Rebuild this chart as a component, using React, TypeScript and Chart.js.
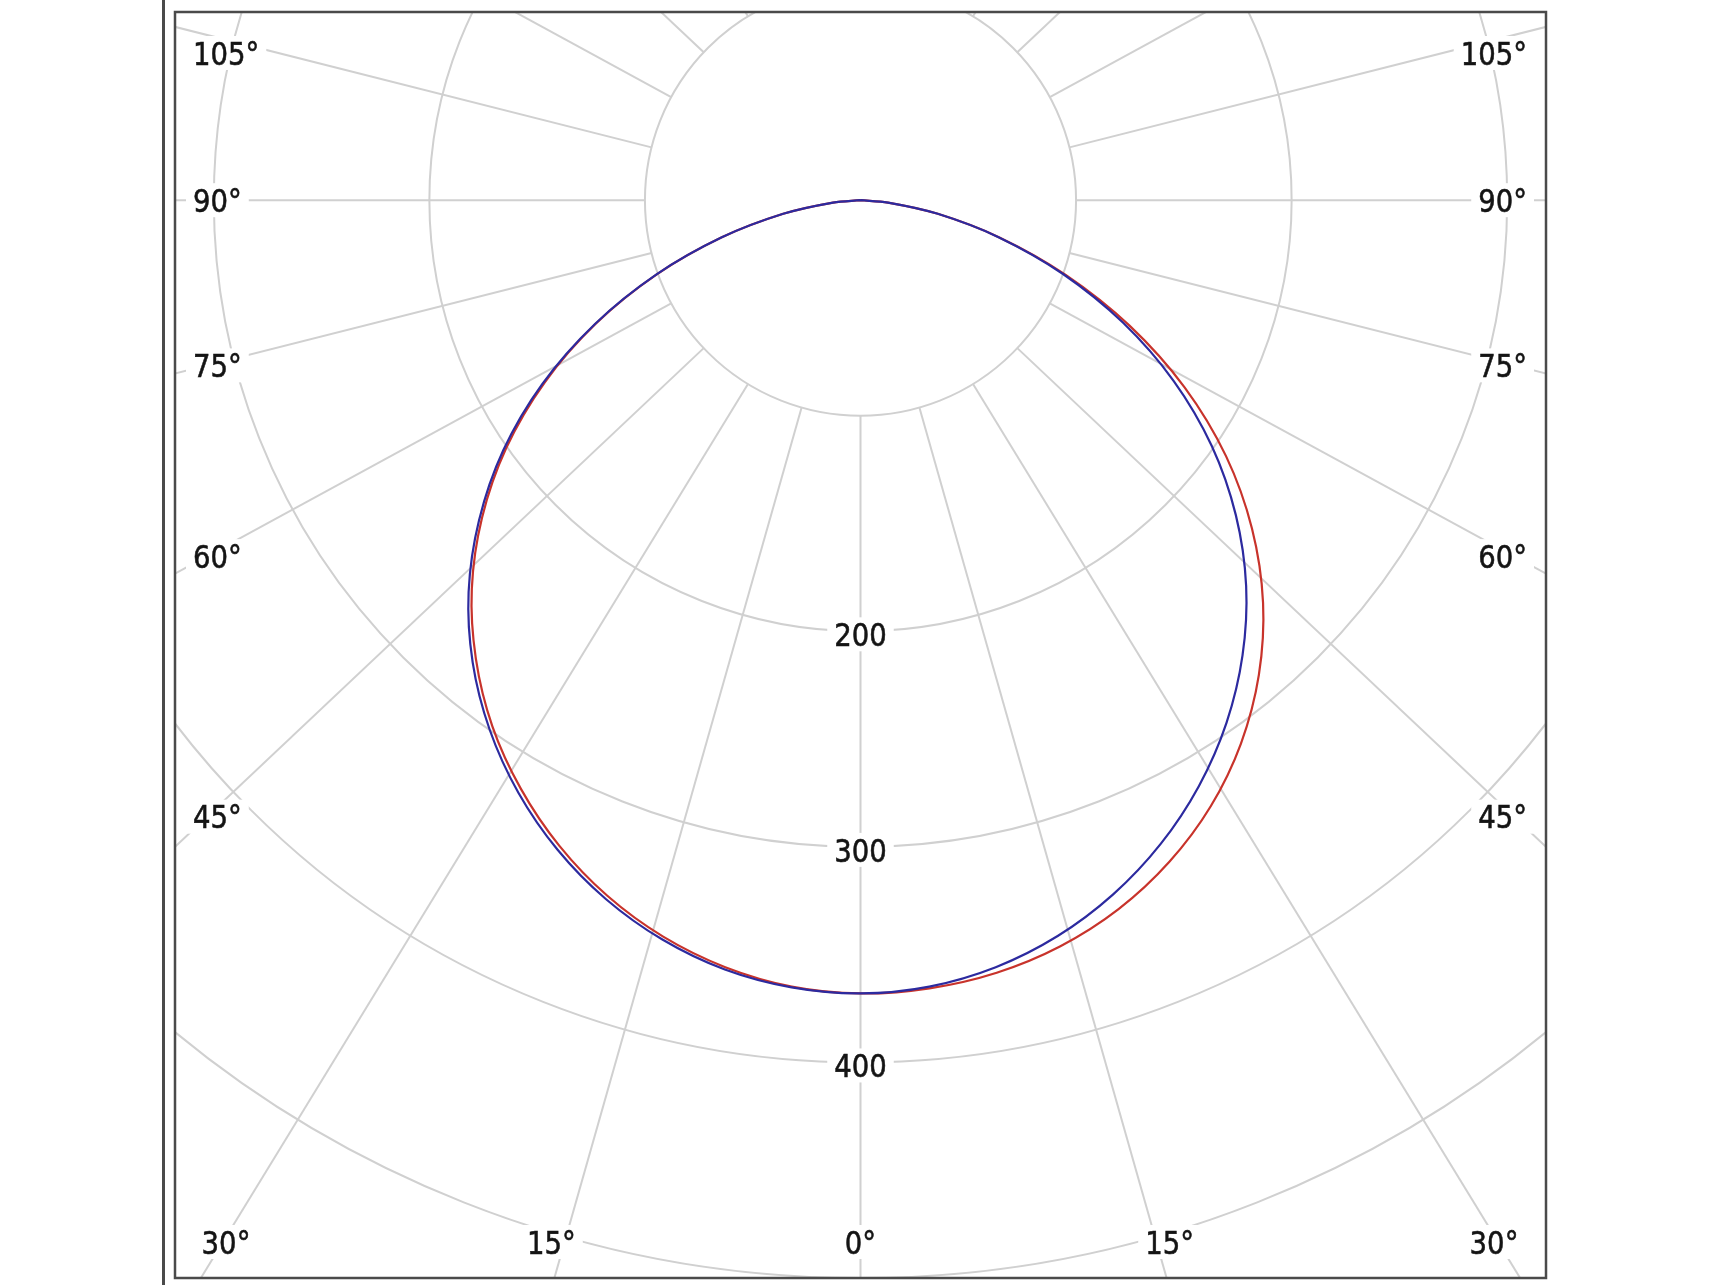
import React, { useEffect, useRef } from "react";
import { Chart, registerables } from "chart.js";

Chart.register(...registerables);

// Vertical angle gamma (degrees from nadir)
const GAMMA = [0, 5, 10, 15, 20, 25, 30, 35, 40, 45, 50, 55, 60, 65, 70, 75, 80, 85, 90];
// Intensities per C-plane (red = C0/C180, blue = C90/C270)
const C0 = [368.0, 367.0, 363.9, 358.3, 350.0, 338.8, 324.8, 307.7, 287.5, 264.1, 237.1, 207.0, 173.6, 137.7, 101.3, 66.7, 36.4, 12.8, 0];
const C180 = [368.0, 366.2, 361.3, 353.7, 343.4, 330.5, 315.2, 297.8, 277.6, 255.0, 229.2, 200.7, 169.2, 135.4, 100.4, 66.6, 36.4, 12.8, 0];
const C90 = [368.0, 366.2, 361.3, 353.4, 342.7, 329.5, 313.9, 296.0, 275.7, 253.0, 227.3, 199.0, 167.8, 134.3, 99.8, 66.3, 36.4, 12.8, 0];
const C270 = [368.0, 366.6, 362.4, 355.1, 345.1, 332.5, 317.4, 299.9, 279.9, 257.1, 231.0, 202.3, 170.4, 135.9, 100.7, 66.6, 36.4, 12.8, 0];

// Grid
const RING_VALUES = [100, 200, 300, 400, 500, 600];
const RING_LABELS = [200, 300, 400];
const SPOKE_ANGLES = [-165, -150, -135, -120, -105, -90, -75, -60, -45, -30, -15, 0, 15, 30, 45, 60, 75, 90, 105, 120, 135, 150, 165, 180];
const ANGLE_LABELS = [-105, -90, -75, -60, -45, -30, -15, 0, 15, 30, 45, 60, 75, 90, 105];

const X_MIN = -318;
const X_MAX = 318;
const Y_MIN = -500;
const Y_MAX = 87.3;

const RED = "#c8332b";
const BLUE = "#2c2a9f";
const GRID = "#d0d0d0";
const FRAME = "#4a4a4a";
const TEXT = "#141414";
const SPOKE_STRETCH = 1.06;
const FONT_SIZE = 32;
const FONT = `${FONT_SIZE}px 'DejaVu Sans', sans-serif`;
const TEXT_SQUEEZE = 0.86;

function toXY(values: number[], side: number) {
  return GAMMA.map((g, i) => {
    const t = (g * Math.PI) / 180;
    return { x: side * values[i] * Math.sin(t), y: -values[i] * Math.cos(t) };
  });
}

function curve(left: number[], right: number[]) {
  const l = toXY(left, -1).reverse();
  const r = toXY(right, 1).slice(1);
  return [...l, ...r];
}

function spokeDir(deg: number) {
  const t = (deg * Math.PI) / 180;
  const dx = SPOKE_STRETCH * Math.sin(t);
  const dy = Math.cos(t);
  const n = Math.hypot(dx, dy);
  return { dx: dx / n, dy: dy / n };
}

function labelBox(ctx: CanvasRenderingContext2D, text: string, x: number, y: number, align: string) {
  const w = ctx.measureText(text).width * TEXT_SQUEEZE;
  let left = x - w / 2;
  if (align === "left") left = x;
  if (align === "right") left = x - w;
  ctx.fillStyle = "#ffffff";
  ctx.fillRect(left - 7, y - 17, w + 14, 34);
  ctx.save();
  ctx.translate(left, y + 0.3645 * FONT_SIZE);
  ctx.scale(TEXT_SQUEEZE, 1);
  ctx.fillStyle = TEXT;
  ctx.strokeStyle = TEXT;
  ctx.lineWidth = 0.6;
  ctx.textAlign = "left";
  ctx.textBaseline = "alphabetic";
  ctx.fillText(text, 0, 0);
  ctx.strokeText(text, 0, 0);
  ctx.restore();
}

const polarGrid = {
  id: "polarGrid",
  beforeDatasetsDraw(chart: any) {
    const { ctx, chartArea: a, scales } = chart;
    const xs = scales.x;
    const ys = scales.y;
    const cx = xs.getPixelForValue(0);
    const cy = ys.getPixelForValue(0);
    const unit = (xs.getPixelForValue(100) - cx) / 100;
    ctx.save();
    ctx.beginPath();
    ctx.rect(a.left, a.top, a.right - a.left, a.bottom - a.top);
    ctx.clip();
    ctx.strokeStyle = GRID;
    ctx.lineWidth = 2;
    for (const v of RING_VALUES) {
      ctx.beginPath();
      ctx.arc(cx, cy, v * unit, 0, Math.PI * 2);
      ctx.stroke();
    }
    const r0 = RING_VALUES[0] * unit;
    for (const deg of SPOKE_ANGLES) {
      const { dx, dy } = spokeDir(deg);
      ctx.beginPath();
      ctx.moveTo(cx + dx * r0, cy + dy * r0);
      ctx.lineTo(cx + dx * 4000, cy + dy * 4000);
      ctx.stroke();
    }
    ctx.restore();
  },
  afterDatasetsDraw(chart: any) {
    const { ctx, chartArea: a, scales } = chart;
    const xs = scales.x;
    const ys = scales.y;
    const cx = xs.getPixelForValue(0);
    const cy = ys.getPixelForValue(0);
    const unit = (xs.getPixelForValue(100) - cx) / 100;
    ctx.save();
    ctx.font = FONT;
    for (const v of RING_LABELS) {
      labelBox(ctx, String(v), cx, cy + v * unit + 3, "center");
    }
    for (const deg of ANGLE_LABELS) {
      const { dx, dy } = spokeDir(deg);
      const cand: { t: number; edge: string }[] = [];
      if (dx < -1e-9) cand.push({ t: (a.left - cx) / dx, edge: "left" });
      if (dx > 1e-9) cand.push({ t: (a.right - cx) / dx, edge: "right" });
      if (dy > 1e-9) cand.push({ t: (a.bottom - cy) / dy, edge: "bottom" });
      if (dy < -1e-9) cand.push({ t: (a.top - cy) / dy, edge: "top" });
      cand.sort((p, q) => p.t - q.t);
      const hit = cand[0];
      const text = `${Math.abs(deg)}°`;
      if (hit.edge === "left" || hit.edge === "right") {
        const xLine = hit.edge === "left" ? a.left + 32 : a.right - 32;
        const t = (xLine - cx) / dx;
        const py = cy + dy * t;
        const y = Math.min(Math.max(py, a.top + 41), a.bottom - 36);
        if (hit.edge === "left") labelBox(ctx, text, a.left + 18, y, "left");
        else labelBox(ctx, text, a.right - 19, y, "right");
      } else if (hit.edge === "bottom") {
        const px = cx + dx * hit.t;
        const shift = deg === 0 ? 0 : Math.sign(deg) * 3;
        const x = Math.min(Math.max(px + shift, a.left + 51), a.right - 52);
        labelBox(ctx, text, x, a.bottom - 36, "center");
      }
    }
    ctx.strokeStyle = FRAME;
    ctx.lineWidth = 2.5;
    ctx.strokeRect(a.left, a.top, a.right - a.left, a.bottom - a.top);
    ctx.lineWidth = 3;
    ctx.beginPath();
    ctx.moveTo(a.left - 11.5, 0);
    ctx.lineTo(a.left - 11.5, chart.height);
    ctx.stroke();
    ctx.restore();
  },
};

export default function App() {
  const canvasRef = useRef<HTMLCanvasElement | null>(null);

  useEffect(() => {
    const canvas = canvasRef.current;
    if (!canvas) return;
    const chart = new Chart(canvas, {
      type: "scatter",
      data: {
        datasets: [
          {
            label: "C90 / C270",
            data: curve(C270, C90),
            showLine: true,
            borderColor: BLUE,
            borderWidth: 2.2,
            pointRadius: 0,
            tension: 0.33,
            fill: false,
            order: 0,
          },
          {
            label: "C0 / C180",
            data: curve(C180, C0),
            showLine: true,
            borderColor: RED,
            borderWidth: 2.2,
            pointRadius: 0,
            tension: 0.33,
            fill: false,
            order: 1,
          },
        ],
      },
      options: {
        animation: false,
        responsive: false,
        devicePixelRatio: 1,
        layout: { padding: { left: 175, right: 174, top: 12, bottom: 7 } },
        plugins: { legend: { display: false }, tooltip: { enabled: false } },
        events: [],
        scales: {
          x: { type: "linear", min: X_MIN, max: X_MAX, display: false },
          y: { type: "linear", min: Y_MIN, max: Y_MAX, display: false },
        },
      },
      plugins: [polarGrid],
    });
    return () => chart.destroy();
  }, []);

  return (
    <div style={{ position: "fixed", left: 0, top: 0, width: 1720, height: 1285, background: "#ffffff" }}>
      <canvas ref={canvasRef} width={1720} height={1285} style={{ display: "block" }} />
    </div>
  );
}
